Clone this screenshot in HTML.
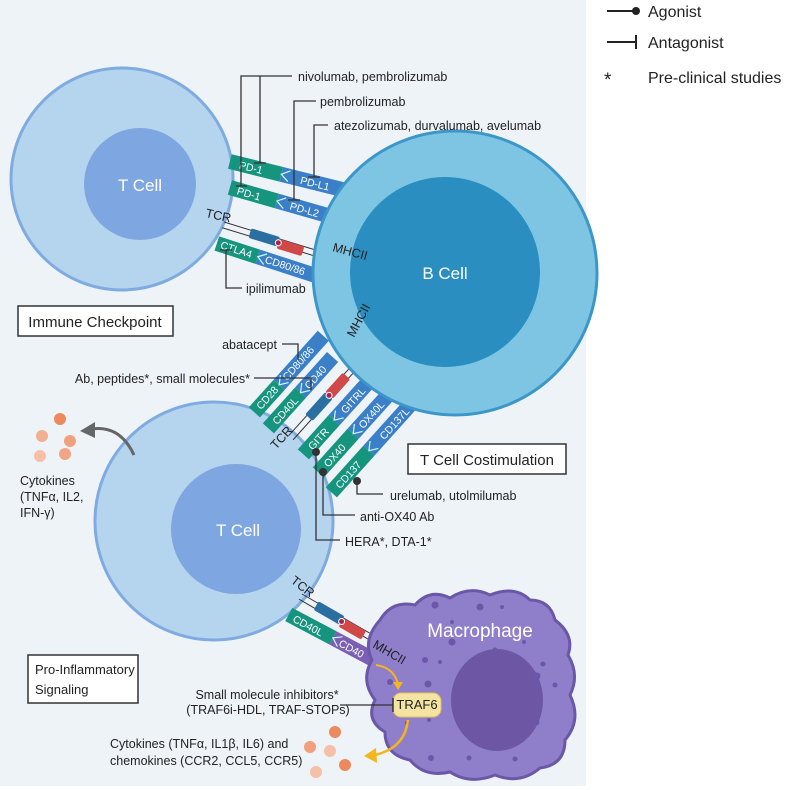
<!DOCTYPE html>
<html><head><meta charset="utf-8"><style>
html,body{margin:0;padding:0;background:#fff;}
svg{display:block;font-family:"Liberation Sans",sans-serif;}
.lbl{font-size:12.5px;fill:#222;}
.bt{font-size:10.5px;fill:#fff;}
</style></head><body>
<svg width="787" height="790" viewBox="0 0 787 790" xmlns="http://www.w3.org/2000/svg">
<rect x="0" y="0" width="586" height="786" fill="#eef3f8"/>

<!-- Legend -->
<line x1="607" y1="11" x2="636" y2="11" stroke="#222" stroke-width="2"/><circle cx="636" cy="11" r="4" fill="#222"/>
<text x="648" y="17" font-size="16" fill="#222">Agonist</text>
<line x1="607" y1="42" x2="636" y2="42" stroke="#222" stroke-width="2"/><line x1="636" y1="35" x2="636" y2="49" stroke="#222" stroke-width="2"/>
<text x="648" y="48" font-size="16" fill="#222">Antagonist</text>
<text x="604" y="86" font-size="19" fill="#222">*</text>
<text x="648" y="83" font-size="16" fill="#222">Pre-clinical studies</text>

<!-- Top T cell -->
<circle cx="122" cy="179" r="111" fill="#b5d5ef" stroke="#7fabe0" stroke-width="3"/>
<circle cx="140" cy="184" r="56" fill="#7ea6e0"/>
<text x="140" y="191" font-size="17" fill="#fff" text-anchor="middle">T Cell</text>

<!-- Bottom T cell -->
<circle cx="214" cy="521" r="119" fill="#b5d5ef" stroke="#7fabe0" stroke-width="3"/>
<circle cx="236" cy="529" r="65" fill="#7ea6e0"/>
<text x="238" y="536" font-size="17" fill="#fff" text-anchor="middle">T Cell</text>

<!-- Top receptor bars -->
<g transform="translate(230,161) rotate(14)">
<rect x="0" y="-7" width="53" height="15" fill="#16957e"/><rect x="53" y="-7" width="70" height="15" fill="#3a7fc8"/>
<polyline points="61,-5 53,0.5 61,6" fill="none" stroke="#cfe" stroke-width="1.2"/>
<text x="10" y="5" class="bt">PD-1</text><text x="73" y="5" class="bt">PD-L1</text></g>
<g transform="translate(230,187) rotate(16)">
<rect x="0" y="-7" width="49" height="15" fill="#16957e"/><rect x="49" y="-7" width="62" height="15" fill="#3a7fc8"/>
<polyline points="57,-5 49,0.5 57,6" fill="none" stroke="#cfe" stroke-width="1.2"/>
<text x="8" y="5" class="bt">PD-1</text><text x="63" y="5" class="bt">PD-L2</text></g>
<g transform="translate(224,222) rotate(17)">
<line x1="0" y1="0" x2="121" y2="0" stroke="#333" stroke-width="1"/><line x1="0" y1="6" x2="121" y2="6" stroke="#333" stroke-width="1"/>
<rect x="28" y="-2" width="30" height="10" rx="2" fill="#2a6fa0"/><rect x="58" y="0" width="26" height="10" rx="2" fill="#d04848"/>
<circle cx="58" cy="4" r="3" fill="#b02050" stroke="#fff" stroke-width="1"/></g>
<g transform="translate(217,243) rotate(18)">
<rect x="0" y="-7" width="43" height="15" fill="#16957e"/><rect x="43" y="-7" width="62" height="15" fill="#3a7fc8"/>
<polyline points="51,-5 43,0.5 51,6" fill="none" stroke="#cfe" stroke-width="1.2"/>
<text x="4" y="4" class="bt" font-size="9.5">CTLA4</text><text x="51" y="4" class="bt" font-size="9.5">CD80/86</text></g>

<!-- Middle bars -->
<g transform="translate(254,412) rotate(-48)">
<rect x="0" y="-7" width="37" height="15" fill="#16957e"/><rect x="37" y="-7" width="66" height="15" fill="#3a7fc8"/>
<polyline points="45,-5 37,0.5 45,6" fill="none" stroke="#cfe" stroke-width="1.2"/>
<text x="6" y="4" class="bt" font-size="9.5">CD28</text><text x="45" y="4" class="bt" font-size="9.5">CD80/86</text></g>
<g transform="translate(268,428) rotate(-48)">
<rect x="0" y="-7" width="48" height="15" fill="#16957e"/><rect x="48" y="-7" width="48" height="15" fill="#3a7fc8"/>
<polyline points="56,-5 48,0.5 56,6" fill="none" stroke="#cfe" stroke-width="1.2"/>
<text x="8" y="5" class="bt">CD40L</text><text x="56" y="5" class="bt">CD40</text></g>
<g transform="translate(292,432) rotate(-48)">
<line x1="-5" y1="0" x2="100" y2="0" stroke="#333"/><line x1="-5" y1="6" x2="100" y2="6" stroke="#333"/>
<rect x="22" y="-2" width="30" height="10" rx="2" fill="#2a6fa0"/><rect x="52" y="-2" width="26" height="10" rx="2" fill="#d04848"/>
<circle cx="52" cy="3" r="3" fill="#b02050" stroke="#fff"/></g>
<g transform="translate(303,454) rotate(-48)">
<rect x="0" y="-7" width="46" height="15" fill="#16957e"/><rect x="46" y="-7" width="62" height="15" fill="#3a7fc8"/>
<polyline points="54,-5 46,0.5 54,6" fill="none" stroke="#cfe" stroke-width="1.2"/>
<text x="9" y="5" class="bt">GITR</text><text x="58" y="5" class="bt">GITRL</text></g>
<g transform="translate(318,472) rotate(-48)">
<rect x="0" y="-7" width="52" height="15" fill="#16957e"/><rect x="52" y="-7" width="82" height="15" fill="#3a7fc8"/>
<polyline points="60,-5 52,0.5 60,6" fill="none" stroke="#cfe" stroke-width="1.2"/>
<text x="10" y="5" class="bt">OX40</text><text x="62" y="5" class="bt">OX40L</text></g>
<g transform="translate(331,492) rotate(-48)">
<rect x="0" y="-7" width="56" height="15" fill="#16957e"/><rect x="56" y="-7" width="104" height="15" fill="#3a7fc8"/>
<polyline points="64,-5 56,0.5 64,6" fill="none" stroke="#cfe" stroke-width="1.2"/>
<text x="8" y="5" class="bt">CD137</text><text x="74" y="5" class="bt">CD137L</text></g>

<!-- Bottom bars -->
<g transform="translate(302,594) rotate(30)">
<line x1="0" y1="0" x2="84" y2="0" stroke="#333"/><line x1="0" y1="6" x2="84" y2="6" stroke="#333"/>
<rect x="18" y="-2" width="30" height="10" rx="2" fill="#2a6fa0"/><rect x="48" y="0" width="26" height="10" rx="2" fill="#d04848"/>
<circle cx="48" cy="4" r="3" fill="#b02050" stroke="#fff"/></g>
<g transform="translate(289,614) rotate(28)">
<rect x="0" y="-7" width="50" height="15" fill="#16957e"/><rect x="50" y="-7" width="56" height="15" fill="#7a5fb5"/>
<polyline points="58,-5 50,0.5 58,6" fill="none" stroke="#cfe" stroke-width="1.2"/>
<text x="6" y="5" class="bt">CD40L</text><text x="58" y="5" class="bt">CD40</text></g>

<!-- B cell -->
<circle cx="455" cy="273" r="142" fill="#7ec5e4" stroke="#3c97c8" stroke-width="3"/>
<circle cx="445" cy="272" r="95" fill="#2b8ec0"/>
<text x="445" y="279" font-size="17" fill="#fff" text-anchor="middle">B Cell</text>

<!-- Macrophage -->
<path d="M380 620 Q392 600 415 605 Q430 588 450 598 Q470 585 490 595 Q515 585 530 600 Q550 600 555 620 Q575 635 568 655 Q580 675 570 695 Q582 720 565 740 Q565 765 540 768 Q520 785 495 775 Q470 785 450 772 Q425 778 410 760 Q385 755 385 732 Q365 720 375 700 Q360 680 372 660 Q362 640 380 620 Z" fill="#8f7fca" stroke="#6b57a8" stroke-width="3"/>
<ellipse cx="497" cy="700" rx="46" ry="51" fill="#6d56a4"/>
<text x="480" y="637" font-size="19" fill="#fff" text-anchor="middle">Macrophage</text>
<g fill="#6b57a8">
<circle cx="435" cy="605" r="3.5"/><circle cx="480" cy="607" r="3.5"/><circle cx="502" cy="607" r="2"/><circle cx="452" cy="622" r="2"/><circle cx="452" cy="642" r="3.5"/><circle cx="495" cy="650" r="2.5"/><circle cx="524" cy="642" r="2"/><circle cx="425" cy="660" r="3"/><circle cx="440" cy="662" r="2"/><circle cx="543" cy="664" r="2.5"/><circle cx="537" cy="676" r="3.5"/><circle cx="555" cy="685" r="2.5"/><circle cx="428" cy="684" r="3.5"/><circle cx="390" cy="682" r="3"/><circle cx="429" cy="720" r="2"/><circle cx="407" cy="723" r="2"/><circle cx="536" cy="722" r="3.5"/><circle cx="431" cy="758" r="3"/><circle cx="469" cy="758" r="2.5"/><circle cx="515" cy="759" r="2.5"/><circle cx="457" cy="696" r="2"/>
</g>

<!-- bar labels -->
<text x="205" y="217" class="lbl" font-size="11" transform="rotate(12 205 217)">TCR</text>
<text x="332" y="251" class="lbl" font-size="11" transform="rotate(15 332 251)">MHCII</text>
<text x="276" y="450" class="lbl" font-size="11" transform="rotate(-48 276 450)">TCR</text>
<text x="354" y="338" class="lbl" font-size="11" transform="rotate(-62 354 338)">MHCII</text>
<text x="290" y="582" class="lbl" font-size="11" transform="rotate(38 290 582)">TCR</text>
<text x="372" y="647" class="lbl" font-size="11" transform="rotate(30 372 647)">MHCII</text>

<!-- top annotations -->
<g fill="none" stroke="#333" stroke-width="1.3">
<polyline points="292,76 241,76 241,186"/><polyline points="260,76 260,163"/><line x1="254" y1="163" x2="266" y2="163"/><line x1="236" y1="186" x2="247" y2="186"/>
<polyline points="316,101 294,101 294,200"/><line x1="288" y1="200" x2="300" y2="200"/>
<polyline points="328,125 314,125 314,177"/><line x1="308" y1="177" x2="320" y2="177"/>
<polyline points="226,250 226,288 242,288"/><line x1="220" y1="250" x2="232" y2="250"/>
</g>
<text x="298" y="81" class="lbl" font-size="13">nivolumab, pembrolizumab</text>
<text x="320" y="106" class="lbl" font-size="13">pembrolizumab</text>
<text x="334" y="130" class="lbl" font-size="13">atezolizumab, durvalumab, avelumab</text>
<text x="246" y="293" class="lbl" font-size="13">ipilimumab</text>

<rect x="18" y="306" width="155" height="30" fill="#fff" stroke="#333" stroke-width="1.5"/>
<text x="95" y="327" font-size="15" fill="#222" text-anchor="middle">Immune Checkpoint</text>

<!-- middle annotations -->
<g fill="none" stroke="#333" stroke-width="1.3">
<polyline points="282,344 298,344 298,360"/>
<polyline points="254,378 311,378 311,390"/>
<polyline points="316,452 316,540 340,540"/><polyline points="323,472 323,515 355,515"/><polyline points="357,482 357,494 383,494"/>
</g>
<g fill="#333"><circle cx="316" cy="452" r="4"/><circle cx="323" cy="472" r="4"/><circle cx="357" cy="481" r="4"/></g>
<text x="277" y="349" class="lbl" text-anchor="end">abatacept</text>
<text x="250" y="383" class="lbl" text-anchor="end">Ab, peptides*, small molecules*</text>
<text x="390" y="500" class="lbl">urelumab, utolmilumab</text>
<text x="360" y="521" class="lbl">anti-OX40 Ab</text>
<text x="345" y="546" class="lbl">HERA*, DTA-1*</text>

<rect x="408" y="444" width="158" height="30" fill="#fff" stroke="#333" stroke-width="1.5"/>
<text x="487" y="465" font-size="15" fill="#222" text-anchor="middle">T Cell Costimulation</text>

<!-- cytokines left -->
<g><circle cx="60" cy="419" r="6" fill="#ec8a5e"/><circle cx="42" cy="436" r="6" fill="#f2b090"/><circle cx="70" cy="441" r="6" fill="#f0a07c"/><circle cx="40" cy="456" r="6" fill="#f5c0a5"/><circle cx="65" cy="454" r="6" fill="#f0a584"/></g>
<path d="M134 455 Q120 425 92 429" fill="none" stroke="#666" stroke-width="3"/>
<polygon points="80,431 95,422 95,438" fill="#666"/>
<text x="20" y="485" class="lbl">Cytokines</text><text x="20" y="501" class="lbl">(TNFα, IL2,</text><text x="20" y="517" class="lbl">IFN-γ)</text>

<rect x="28" y="655" width="110" height="48" fill="#fff" stroke="#333" stroke-width="1.5"/>
<text x="35" y="674" font-size="13" fill="#222">Pro-Inflammatory</text>
<text x="35" y="694" font-size="13" fill="#222">Signaling</text>

<!-- TRAF6 -->
<path d="M376 665 Q395 668 398 685" fill="none" stroke="#f5b51c" stroke-width="2"/><polygon points="393,682 403,682 398,690" fill="#f5b51c"/>
<rect x="393" y="693" width="48" height="24" rx="8" fill="#f4e4a1" stroke="#e0c060"/>
<text x="417" y="709" font-size="13" fill="#222" text-anchor="middle">TRAF6</text>
<line x1="340" y1="705" x2="393" y2="705" stroke="#333" stroke-width="1.3"/><line x1="393" y1="698" x2="393" y2="712" stroke="#333" stroke-width="1.5"/>
<text x="267" y="699" class="lbl" font-size="12" text-anchor="middle">Small molecule inhibitors*</text>
<text x="268" y="714" class="lbl" font-size="12" text-anchor="middle">(TRAF6i-HDL, TRAF-STOPs)</text>
<path d="M408 720 Q405 748 375 755" fill="none" stroke="#f5b51c" stroke-width="2.5"/><polygon points="364,756 376,748 377,763" fill="#f5b51c"/>
<g><circle cx="335" cy="732" r="6" fill="#ec8a5e"/><circle cx="310" cy="747" r="6" fill="#f0a07c"/><circle cx="330" cy="751" r="6" fill="#f5c0a5"/><circle cx="345" cy="765" r="6" fill="#ec8a5e"/><circle cx="316" cy="772" r="6" fill="#f5c0a5"/></g>
<text x="110" y="748" class="lbl" font-size="12">Cytokines (TNFα, IL1β, IL6) and</text>
<text x="110" y="765" class="lbl" font-size="12">chemokines (CCR2, CCL5, CCR5)</text>
</svg>
</body></html>
